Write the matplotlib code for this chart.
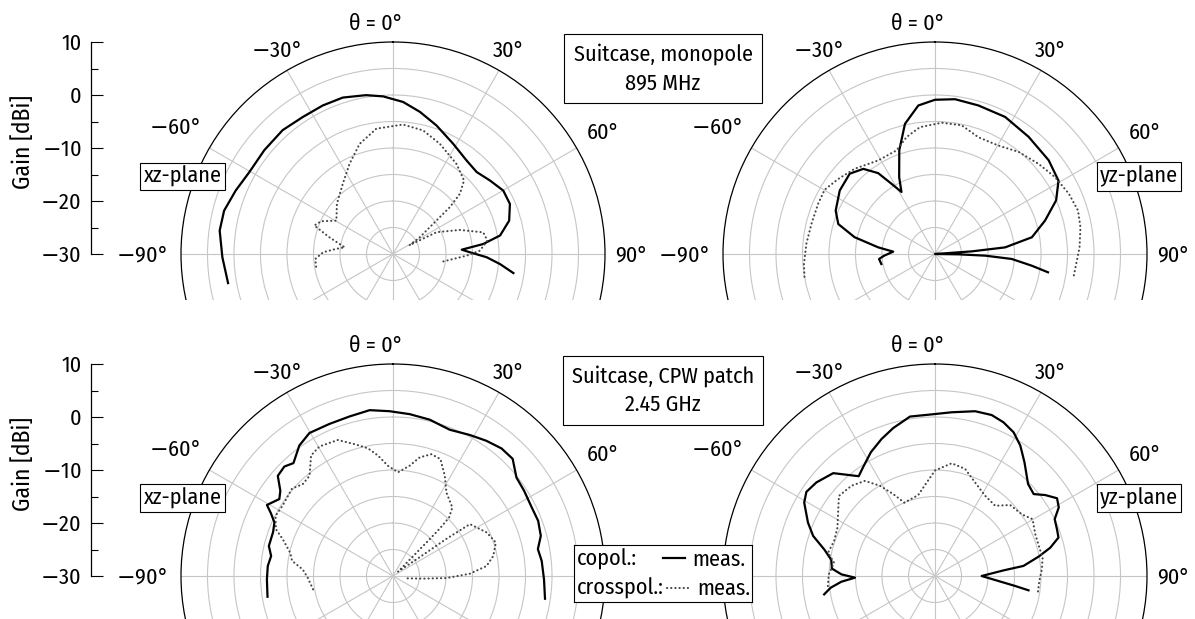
import numpy as np
import matplotlib

matplotlib.use('Agg')

import matplotlib.pyplot as plt
import matplotlib.transforms as mtransforms
from matplotlib.patches import Rectangle

plt.rcParams['font.family'] = ['Fira Sans Condensed', 'DejaVu Sans']
plt.rcParams['font.weight'] = 'normal'
plt.rcParams['font.size'] = 16
plt.rcParams['mathtext.fontset'] = 'dejavusans'

# ---- measured patterns (theta in degrees, gain in dBi) ----
# suitcase, monopole, 895 MHz, xz-plane
mono_xz_co_theta = [-100.0, -91.1, -82.3, -75.6, -68.0, -60.3, -51.1, -41.7, -33.4, -25.3,
                    -17.8, -9.6, -3.6, 3.8, 10.7, 18.7, 28.6, 38.2, 45.6, 52.8,
                    60.1, 66.8, 74.0, 80.2, 83.7, 86.4, 88.7, 92.0, 95.4, 99.0]
mono_xz_co_gain = [1.6, 2.2, 3.0, 2.9, 2.0, 1.2, 1.2, 1.3, 0.95, 1.0,
                   1.0, 0.4, -0.2, -1.25, -2.7, -4.4, -6.3, -7.55, -7.9, -7.05,
                   -6.0, -6.0, -7.2, -9.5, -12.9, -17.0, -15.5, -12.3, -9.7, -7.0]
mono_xz_cx_theta = [-99.4, -93.7, -88.6, -84.9, -82.1, -75.3, -70.1, -65.5, -59.5, -48.2,
                    -35.5, -25.7, -16.9, -7.6, 4.4, 13.7, 23.0, 35.1, 44.0, 48.0,
                    50.5, 52.4, 58.0, 62.0, 63.4, 70.2, 76.5, 81.9, 87.8, 91.3, 98.4]
mono_xz_cx_gain = [-15.3, -15.3, -16.8, -19.2, -20.8, -17.6, -14.2, -15.1, -17.6, -15.8,
                   -13.7, -11.1, -8.3, -6.15, -5.5, -6.0, -7.4, -9.2, -10.7, -13.0,
                   -16.1, -19.65, -24.05, -26.5, -20.8, -16.6, -12.5, -12.0, -13.6, -16.1, -20.4]

# suitcase, monopole, 895 MHz, yz-plane
mono_yz_co_theta = [-100.6, -95.1, -91.9, -86.8, -83.3, -78.2, -72.8, -66.4, -56.3, -46.7,
                    -40.1, -35.1, -31.8, -28.4, -25.0, -19.0, -13.0, -6.4, 0.0, 7.4,
                    16.3, 27.1, 38.6, 50.5, 59.3, 66.1, 73.1, 80.2, 84.6, 85.9,
                    86.0, 88.0, 90.8, 91.9, 93.7, 96.9, 99.2]
mono_yz_co_gain = [-19.7, -19.4, -20.4, -22.1, -19.2, -14.5, -10.9, -9.55, -8.4, -7.9,
                   -9.0, -11.35, -14.4, -16.7, -14.0, -9.3, -4.8, -1.8, -0.9, -0.55,
                   -0.8, -0.95, -1.7, -2.2, -2.9, -5.0, -8.3, -11.45, -16.7, -23.0,
                   -28.1, -30.0, -25.6, -20.5, -15.5, -11.6, -8.4]
mono_yz_cx_theta = [-99.9, -94.4, -85.5, -76.3, -66.8, -59.8, -52.2, -43.3, -31.3, -20.4,
                    -13.7, -6.8, 2.9, 11.7, 20.4, 30.3, 39.3, 48.95, 57.4, 65.8,
                    73.1, 79.6, 87.4, 99.3]
mono_yz_cx_gain = [-5.0, -5.2, -5.65, -6.0, -6.0, -5.9, -6.9, -7.9, -9.35, -9.15,
                   -7.3, -5.9, -5.2, -5.2, -6.5, -6.3, -5.1, -4.1, -3.1, -2.3,
                   -1.8, -2.1, -2.7, -3.5]

# suitcase, CPW patch, 2.45 GHz, xz-plane
patch_xz_co_theta = [-99.4, -91.5, -85.4, -80.7, -76.4, -69.8, -65.7, -62.8, -60.6, -55.9,
                     -52.9, -49.0, -44.8, -41.4, -35.7, -30.3, -22.7, -15.2, -8.0, -1.2,
                     5.9, 13.2, 21.2, 28.6, 34.6, 40.4, 45.6, 51.4, 57.0, 63.7,
                     69.2, 74.8, 79.5, 84.2, 91.3, 98.5]
patch_xz_co_gain = [-6.0, -6.2, -6.3, -6.7, -5.9, -5.9, -5.45, -4.1, -2.7, -4.1,
                    -3.35, -1.2, -0.9, -1.6, 0.3, 1.25, 1.1, 1.2, 1.6, 1.1,
                    0.7, 0.3, -0.4, 0.3, 1.0, 1.6, 1.6, -0.2, -0.5, -0.8,
                    -0.7, -1.1, -2.2, -1.8, -1.5, -1.0]
patch_xz_cx_theta = [-99.5, -91.1, -85.8, -81.5, -77.2, -71.6, -68.2, -62.9, -57.5, -49.1,
                     -44.5, -39.8, -34.2, -29.6, -22.1, -16.2, -11.1, -7.1, -2.6, 2.8,
                     8.6, 12.7, 17.5, 22.1, 27.3, 32.6, 40.9, 43.8, 44.6, 45.0,
                     45.4, 49.0, 54.8, 55.2, 56.0, 65.1, 72.0, 78.7, 83.9, 88.3,
                     92.2, 95.0, 99.4]
patch_xz_cx_gain = [-14.7, -13.9, -12.9, -10.75, -10.1, -8.1, -6.2, -5.1, -5.3, -4.8,
                    -5.7, -5.4, -2.5, -1.9, -2.3, -4.1, -5.45, -7.1, -9.2, -10.4,
                    -8.95, -7.05, -5.9, -6.2, -8.7, -11.3, -12.9, -14.7, -17.5, -21.1,
                    -24.65, -28.75, -23.9, -17.6, -12.5, -10.5, -9.6, -10.7, -12.25, -15.5,
                    -19.9, -24.3, -27.3]

# suitcase, CPW patch, 2.45 GHz, yz-plane
patch_yz_co_theta = [-99.4, -96.4, -93.5, -91.2, -89.0, -85.9, -81.2, -76.7, -71.8, -67.2,
                     -60.7, -56.8, -51.7, -44.7, -41.2, -37.4, -33.5, -27.4, -21.3, -15.8,
                     -8.9, -1.2, 5.8, 13.7, 19.4, 24.0, 28.7, 33.2, 38.2, 45.3,
                     50.3, 53.7, 57.5, 61.0, 64.6, 69.0, 72.7, 76.2, 79.4, 83.5,
                     85.3, 90.0, 94.5, 97.1, 98.7]
patch_yz_co_gain = [-8.8, -10.2, -12.3, -14.9, -12.35, -10.5, -10.2, -8.6, -5.8, -4.0,
                    -1.7, -1.0, -1.5, -2.7, -4.6, -6.3, -5.4, -3.7, -2.25, -1.0,
                    0.45, 0.5, 1.05, 2.0, 2.2, 1.75, 0.9, -0.6, -2.7, -5.3,
                    -5.8, -4.2, -2.7, -3.3, -5.0, -5.35, -5.6, -7.6, -10.1, -13.2,
                    -17.0, -21.2, -18.0, -14.75, -12.15]
patch_yz_cx_theta = [-95.4, -89.1, -82.5, -77.7, -70.8, -63.6, -56.8, -50.2, -42.8, -36.4,
                     -31.4, -27.0, -22.7, -11.7, -5.1, 0.0, 8.4, 15.7, 23.2, 32.0,
                     40.6, 46.6, 54.6, 59.8, 67.4, 74.8, 80.3, 86.4, 92.8, 98.9]
patch_yz_cx_gain = [-9.7, -9.95, -10.8, -9.35, -9.85, -9.45, -8.15, -6.4, -6.8, -7.7,
                    -10.05, -12.65, -15.0, -14.4, -12.3, -10.1, -8.5, -9.0, -10.8, -12.15,
                    -12.55, -10.5, -9.9, -8.7, -9.5, -9.6, -9.4, -9.8, -10.3, -10.35]

MINUS = r'$-$'
gain_ticks = [-30, -20, -10, 0, 10]
gain_tick_labels = [MINUS + '30', MINUS + '20', MINUS + '10', '0', '10']
gain_minor = [-25, -15, -5, 5]
ring_levels = [-25, -20, -15, -10, -5, 0, 5]
spoke_angles = list(range(0, 360, 30))
theta_labels = ['\u03b8 = 0\u00b0', MINUS + '30\u00b0', '30\u00b0', MINUS + '60\u00b0', '60\u00b0',
                MINUS + '90\u00b0', '90\u00b0']
# label centres in axes fractions of the polar panel
theta_label_pos = [(0.460, 1.042), (0.223, 0.979), (0.774, 0.979), (-0.016, 0.798),
                   (0.997, 0.787), (-0.093, 0.498), (1.062, 0.498)]

GRID = '#c6c6c6'
CROSS = '#444444'
DOTS = (0, (0.1, 1.9))

fig = plt.figure(figsize=(11.95, 6.19), dpi=100)
W, H = 1195.0, 619.0
R = 212.0


def polar_panel(cx, cy, zorder):
    rect = [(cx - R) / W, (H - cy - R) / H, 2 * R / W, 2 * R / H]
    ax = fig.add_axes(rect, projection='polar', zorder=zorder)
    ax.set_theta_zero_location('N')
    ax.set_theta_direction(-1)
    ax.set_rlim(-30, 10)
    ax.set_rticks(ring_levels)
    ax.set_yticklabels([])
    ax.set_thetagrids(spoke_angles, labels=[''] * len(spoke_angles))
    ax.grid(True, color=GRID, lw=0.8)
    ax.spines['polar'].set_color('black')
    ax.spines['polar'].set_linewidth(0.9)
    ax.tick_params(axis='x', direction='out', length=8, width=0.8, color=GRID, pad=0)
    ax.tick_params(axis='y', length=0)
    for lab, (px, py) in zip(theta_labels, theta_label_pos):
        ax.text(px, py, lab, transform=ax.transAxes, ha='center', va='center')
    return ax


def gain_axis(cy, zorder):
    ax = fig.add_axes([91 / W, (H - cy) / H, 10 / W, R / H], zorder=zorder)
    ax.patch.set_visible(False)
    ax.set_ylim(-30, 10)
    ax.set_yticks(gain_ticks)
    ax.set_yticklabels(gain_tick_labels)
    ax.set_yticks(gain_minor, minor=True)
    ax.set_xticks([])
    for s in ['top', 'right', 'bottom']:
        ax.spines[s].set_visible(False)
    ax.spines['left'].set_linewidth(0.9)
    ax.tick_params(axis='y', which='major', direction='in', length=8.5, width=0.8, pad=7)
    ax.tick_params(axis='y', which='minor', direction='in', length=5, width=0.8)
    ax.set_ylabel('Gain [dBi]', fontsize=17)
    tr = mtransforms.blended_transform_factory(fig.transFigure, ax.transAxes)
    ax.yaxis.set_label_coords(35 / W, 0.53, transform=tr)
    return ax


def draw(ax, co_t, co_g, cx_t, cx_g):
    ax.plot(np.deg2rad(co_t), co_g, color='black', lw=1.6, solid_joinstyle='round')
    ax.plot(np.deg2rad(cx_t), cx_g, color=CROSS, lw=1.5, linestyle=DOTS,
            dash_capstyle='round')


box = dict(boxstyle='square,pad=0.15', fc='white', ec='black', lw=0.8)
bigbox = dict(boxstyle='square,pad=0.42', fc='white', ec='black', lw=0.8)

# top row
ax_tl = polar_panel(393, 254, 0)
ax_tr = polar_panel(935, 254, 0)
draw(ax_tl, mono_xz_co_theta, mono_xz_co_gain, mono_xz_cx_theta, mono_xz_cx_gain)
draw(ax_tr, mono_yz_co_theta, mono_yz_co_gain, mono_yz_cx_theta, mono_yz_cx_gain)
gain_axis(254, 0)

# white band hides the lower half of the top row circles
fig.add_artist(Rectangle((0, 0), 1, (H - 300) / H, transform=fig.transFigure,
                         fc='white', ec='none', zorder=0.5))

# bottom row
ax_bl = polar_panel(393, 576, 1)
ax_br = polar_panel(935, 576, 1)
draw(ax_bl, patch_xz_co_theta, patch_xz_co_gain, patch_xz_cx_theta, patch_xz_cx_gain)
draw(ax_br, patch_yz_co_theta, patch_yz_co_gain, patch_yz_cx_theta, patch_yz_cx_gain)
gain_axis(576, 1)

fig.text(663 / W, 1 - 68.5 / H, 'Suitcase, monopole\n895 MHz', ha='center', va='center',
         multialignment='center', linespacing=1.4, bbox=bigbox, zorder=5)
fig.text(663 / W, 1 - 390.5 / H, 'Suitcase, CPW patch\n2.45 GHz', ha='center', va='center',
         multialignment='center', linespacing=1.4, bbox=bigbox, zorder=5)
for yc in [176.5, 498]:
    fig.text(182.5 / W, 1 - yc / H, 'xz-plane', ha='center', va='center', bbox=box, zorder=5)
    fig.text(1139 / W, 1 - yc / H, 'yz-plane', ha='center', va='center', bbox=box, zorder=5)

# legend
lg = fig.add_axes([574 / W, (H - 602) / H, 178 / W, 57 / H], zorder=5)
lg.set_xticks([])
lg.set_yticks([])
for s in lg.spines.values():
    s.set_linewidth(0.8)
lg.set_xlim(0, 1)
lg.set_ylim(0, 1)
lg.text(0.017, 0.75, 'copol.:', ha='left', va='center')
lg.text(0.017, 0.24, 'crosspol.:', ha='left', va='center')
lg.plot([0.50, 0.624], [0.77, 0.77], color='black', lw=1.6)
lg.plot([0.525, 0.64], [0.25, 0.25], color=CROSS, lw=1.5, linestyle=DOTS, dash_capstyle='round')
lg.text(0.663, 0.75, 'meas.', ha='left', va='center')
lg.text(0.69, 0.24, 'meas.', ha='left', va='center')

fig.savefig('out.png', dpi=100)
